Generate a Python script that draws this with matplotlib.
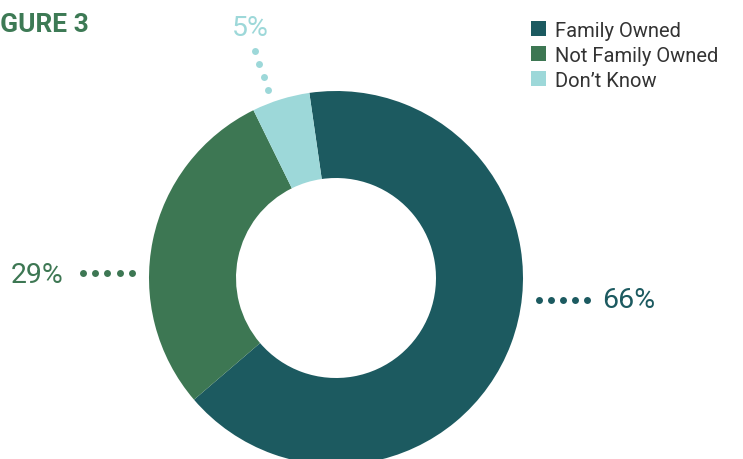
import numpy as np
import matplotlib.pyplot as plt
from matplotlib.patches import Rectangle

# Ownership breakdown
categories = ['Family Owned', 'Not Family Owned', 'Don\u2019t Know']
shares = [66, 29, 5]
colors = ['#1c5a60', '#3d7753', '#9dd8d9']

plt.rcParams['font.family'] = ['Roboto', 'DejaVu Sans']

W, H = 743, 460
fig = plt.figure(figsize=(W / 100, H / 100), dpi=100)
ax = fig.add_axes([0, 0, 1, 1])

# axes are in pixel units with y pointing down, so counterclock=True
# in data space runs clockwise on screen
CX, CY, R_OUT, R_IN = 336, 279, 187, 100
ax.pie(shares, colors=colors, center=(CX, CY), radius=R_OUT,
       startangle=-98.2, counterclock=True,
       wedgeprops=dict(width=R_OUT - R_IN, linewidth=0))
ax.set_xlim(0, W)
ax.set_ylim(H, 0)
ax.set_aspect('equal')
ax.axis('off')

# title, partly running off the left edge
ax.text(89, 32, 'FIGURE 3', color='#3d7a55', fontsize=19, fontweight='bold',
        ha='right', va='baseline')

# percentage labels with dotted leaders: (text x, baseline, dot start, dot step, n dots)
label_layout = [
    dict(tx=602, ty=308, ha='left', d0=(539, 301), step=(12, 0), n=5),
    dict(tx=11, ty=283, ha='left', d0=(83, 274), step=(12.2, 0), n=5),
    dict(tx=232, ty=36, ha='left', d0=(255, 52), step=(4.3, 13), n=4),
]
for share, col, lay in zip(shares, colors, label_layout):
    ax.text(lay['tx'], lay['ty'], f'{share}%', color=col, fontsize=20.5,
            ha=lay['ha'], va='baseline')
    k = np.arange(lay['n'])
    ax.plot(lay['d0'][0] + k * lay['step'][0], lay['d0'][1] + k * lay['step'][1],
            'o', color=col, ms=5, mec='none')

# legend
for i, (name, col) in enumerate(zip(categories, colors)):
    y = 22 + i * 25
    ax.add_patch(Rectangle((531, y), 15, 15, color=col, lw=0))
    ax.text(555, y + 15, name, color='#333333', fontsize=14.5, ha='left', va='baseline')

fig.savefig('out.png', dpi=100)
